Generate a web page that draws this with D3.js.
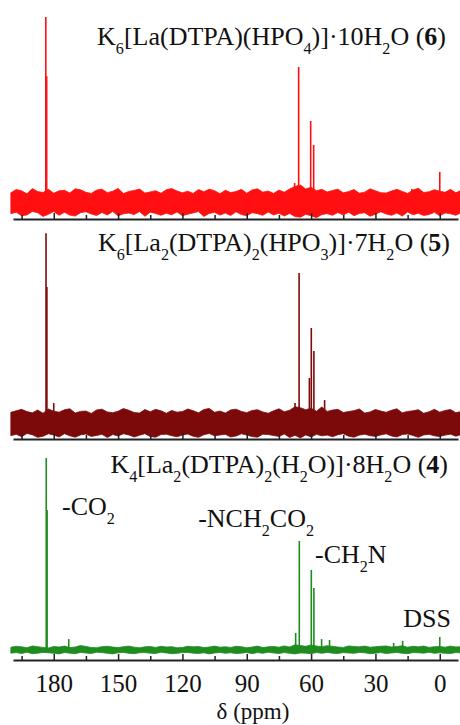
<!doctype html>
<html>
<head>
<meta charset="utf-8">
<script src="https://d3js.org/d3.v7.min.js"></script>
<style>
  body { margin: 0; background: #fff; }
  svg text { font-family: "Liberation Serif", "Times New Roman", serif; fill: #111; }
  svg .axis path, svg .axis line { stroke: #222; }
</style>
</head>
<body>
<script>

// x axis (ppm, reversed)
var xTicks = [180, 150, 120, 90, 60, 30, 0];
var xMinor = [195, 165, 135, 105, 75, 45, 15];

// grid for the baseline noise band, every 2.5 ppm from 200 down to -10
var noisePpm = d3.range(200, -10.1, -2.5);

// panel 6 (top, red)
var p6Peaks = [
  {ppm: 183.7, h: 100}, {ppm: 183.3, h: 68},
  {ppm: 67.7, h: 10.4}, {ppm: 65.8, h: 73},
  {ppm: 60.2, h: 43.9}, {ppm: 58.8, h: 30.9},
  {ppm: 13.0, h: 7.2}, {ppm: 0.0, h: 16.4}
];
var p6Hi = [5.1,6.9,6.2,4.6,7.4,5.8,5.3,7.0,4.9,6.2,
            6.5,5.0,7.3,6.8,5.4,4.8,6.6,7.1,5.2,6.0,
            7.5,4.7,5.9,6.4,7.2,5.0,5.6,6.3,4.9,6.8,
            7.4,6.1,5.1,6.0,4.8,6.9,5.7,7.1,6.3,4.6,
            6.5,5.3,5.8,7.0,4.9,6.7,7.3,5.5,6.1,4.8,
            6.6,5.5,7.2,8.6,9.4,7.2,8.1,6.3,7.0,5.6,
            6.4,7.1,5.1,5.8,6.9,4.9,5.5,7.3,6.2,5.2,
            5.0,6.1,7.0,5.9,4.8,6.6,7.6,5.3,5.7,6.8,
            6.0,5.4,7.0,5.1,6.5];
var p6Lo = [-6.1,-5.3,-7.2,-6.8,-4.9,-5.6,-7.6,-6.5,-5.0,-7.0,
            -5.4,-6.9,-7.4,-5.6,-5.1,-6.3,-7.1,-5.5,-6.8,-4.9,
            -7.3,-6.2,-5.8,-6.6,-5.0,-7.5,-5.3,-6.0,-7.0,-5.9,
            -6.7,-5.2,-7.2,-6.4,-5.7,-5.0,-7.6,-6.0,-5.4,-6.9,
            -5.8,-7.1,-5.1,-6.6,-7.3,-5.6,-6.1,-7.0,-5.2,-6.8,
            -5.9,-7.4,-6.0,-7.7,-8.0,-6.5,-7.2,-8.3,-6.6,-6.1,
            -7.0,-5.5,-6.9,-5.3,-7.2,-6.0,-5.6,-7.5,-6.4,-5.1,
            -6.3,-7.0,-5.8,-7.4,-5.2,-6.7,-5.9,-7.1,-6.6,-5.4,
            -7.3,-5.7,-6.2,-7.0,-5.5];

// panel 5 (middle, dark red)
var p5Peaks = [
  {ppm: 183.6, h: 102}, {ppm: 183.2, h: 73},
  {ppm: 180.0, h: 10.4}, {ppm: 67.5, h: 10.4},
  {ppm: 65.6, h: 80.6}, {ppm: 60.8, h: 23.9},
  {ppm: 59.9, h: 50.9}, {ppm: 58.7, h: 38.5},
  {ppm: 53.7, h: 12}
];
var p5Hi = [5.4,6.2,7.0,5.8,5.1,6.6,4.9,7.2,6.0,5.5,
            6.8,7.3,5.0,5.9,6.1,4.8,6.7,7.1,5.6,5.2,
            6.0,7.4,6.5,5.3,5.0,6.9,5.7,7.0,6.2,4.9,
            6.4,5.5,5.8,7.2,6.3,5.1,6.9,7.5,5.4,6.1,
            5.0,6.7,7.1,5.9,5.2,6.4,6.8,5.6,4.9,6.2,
            7.3,5.7,6.5,8.4,7.9,6.8,7.6,6.0,8.3,5.9,
            6.6,7.0,5.3,5.8,6.3,7.2,5.0,5.6,6.9,6.1,
            5.4,6.5,7.3,5.1,5.9,6.2,6.8,4.9,5.7,7.0,
            5.5,6.4,6.9,5.2,5.8];
var p5Lo = [-7.2,-6.4,-7.8,-6.0,-6.7,-8.1,-7.5,-6.2,-6.9,-7.9,
            -6.1,-7.3,-8.0,-6.8,-6.3,-7.6,-7.1,-6.5,-8.2,-6.6,
            -7.4,-6.2,-6.8,-7.9,-7.0,-6.1,-7.7,-8.0,-6.6,-6.4,
            -7.2,-7.8,-6.9,-6.3,-7.5,-8.1,-6.7,-6.0,-7.3,-6.8,
            -6.5,-7.9,-7.4,-6.2,-6.9,-7.7,-8.0,-6.4,-6.6,-7.1,
            -7.6,-6.3,-8.2,-7.0,-8.4,-6.8,-7.9,-6.5,-7.3,-6.9,
            -7.8,-6.7,-6.1,-7.5,-8.0,-6.9,-6.4,-7.2,-7.6,-6.8,
            -6.2,-7.4,-7.9,-6.6,-6.3,-7.1,-8.1,-6.8,-6.5,-7.3,
            -7.7,-6.9,-6.4,-7.5,-6.6];

// panel 4 (bottom, green)
var p4Peaks = [
  {ppm: 183.5, h: 100}, {ppm: 183.1, h: 72},
  {ppm: 173.0, h: 2.3}, {ppm: 67.2, h: 5.6},
  {ppm: 65.5, h: 55.2}, {ppm: 59.9, h: 39.6},
  {ppm: 58.7, h: 29.9}, {ppm: 55.1, h: 2.3},
  {ppm: 51.4, h: 1.8}, {ppm: 21.5, h: 0.2},
  {ppm: 17.3, h: 1.3}, {ppm: 0.0, h: 3.4}
];
var p4Hi = [-2.1,-1.6,-1.9,-2.4,-1.4,-1.8,-2.2,-2.5,-1.7,-2.0,
            -1.5,-2.3,-2.0,-1.2,-1.7,-2.2,-2.4,-1.8,-1.6,-2.0,
            -2.3,-1.8,-1.5,-2.1,-2.4,-1.9,-1.7,-2.2,-1.6,-2.0,
            -1.8,-2.4,-2.2,-1.6,-1.9,-1.7,-2.3,-2.0,-1.5,-2.1,
            -1.9,-2.2,-1.6,-1.8,-2.4,-2.0,-1.5,-2.3,-1.9,-1.7,
            -2.1,-1.4,-2.0,-0.8,-1.2,-1.6,-0.9,-1.5,-1.8,-1.3,
            -1.6,-2.0,-2.2,-1.4,-1.7,-1.9,-1.5,-2.1,-1.8,-1.6,
            -1.4,-2.0,-1.7,-1.3,-2.1,-1.6,-1.9,-1.5,-2.2,-1.8,
            -1.7,-2.1,-1.5,-2.0,-1.8];
var p4Lo = [-5.3,-5.0,-5.5,-4.8,-5.6,-5.3,-4.9,-5.1,-5.4,-5.7,
            -5.0,-5.3,-5.6,-4.9,-5.2,-5.5,-4.8,-5.0,-5.4,-5.7,
            -5.1,-4.9,-5.4,-5.6,-5.1,-5.0,-5.3,-5.5,-4.8,-5.2,
            -5.6,-5.4,-5.0,-4.9,-5.3,-5.5,-5.1,-5.7,-5.2,-4.9,
            -5.4,-5.1,-5.5,-5.3,-4.9,-5.6,-5.0,-5.4,-4.8,-5.2,
            -5.5,-5.0,-5.4,-5.7,-5.2,-5.3,-5.6,-5.0,-5.4,-4.9,
            -5.3,-5.5,-5.0,-5.2,-5.4,-4.9,-5.1,-5.6,-5.3,-5.0,
            -5.5,-5.2,-4.9,-5.4,-5.6,-5.0,-5.1,-5.3,-4.8,-5.4,
            -5.1,-5.4,-5.5,-5.0,-5.2];

var panels = [
  {axisY: 219, color: "#ff0f0f", base: 0, peaks: p6Peaks, hi: p6Hi, lo: p6Lo,
   title: [["K"],["6","sub"],["[La(DTPA)(HPO"],["4","sub"],[")]·10H"],["2","sub"],["O ("],["6","bold"],[")"]],
   titleX: 446, titleY: 45},
  {axisY: 439, color: "#7d0a0a", base: 0, peaks: p5Peaks, hi: p5Hi, lo: p5Lo,
   title: [["K"],["6","sub"],["[La"],["2","sub"],["(DTPA)"],["2","sub"],["(HPO"],["3","sub"],[")]·7H"],["2","sub"],["O ("],["5","bold"],[")"]],
   titleX: 450, titleY: 251},
  {axisY: 660, color: "#1f8c1f", base: -3.5, peaks: p4Peaks, hi: p4Hi, lo: p4Lo,
   title: [["K"],["4","sub"],["[La"],["2","sub"],["(DTPA)"],["2","sub"],["(H"],["2","sub"],["O)]·8H"],["2","sub"],["O ("],["4","bold"],[")"]],
   titleX: 448, titleY: 473}
];

var peakLabels = [
  {text: [["-CO"],["2","sub"]], x: 62, y: 515, anchor: "start"},
  {text: [["-NCH"],["2","sub"],["CO"],["2","sub"]], x: 314, y: 527, anchor: "end"},
  {text: [["-CH"],["2","sub"],["N"]], x: 315, y: 563, anchor: "start"},
  {text: [["DSS"]], x: 451, y: 627, anchor: "end"}
];

var width = 460, height = 725;
var FONT = 26, TICK_FONT = 25;

var svg = d3.select("body").append("svg")
  .attr("width", width)
  .attr("height", height);

var x = d3.scaleLinear().domain([199, -8.5]).range([13, 458]);

// writes a chemical formula with subscripts into a text element
function formula(sel, parts, size) {
  var shifted = false;
  parts.forEach(function(p) {
    var t = sel.append("tspan").text(p[0]);
    if (p[1] == "sub") {
      t.attr("font-size", size * 0.62);
      if (!shifted) t.attr("dy", size * 0.36);
      shifted = true;
    } else {
      if (shifted) t.attr("dy", -size * 0.36);
      shifted = false;
      if (p[1] == "bold") t.attr("font-weight", "bold");
    }
  });
}

panels.forEach(function(p, i) {
  var y = d3.scaleLinear().domain([-9, 100]).range([p.axisY, p.axisY - 202]);
  var g = svg.append("g");

  // noise band
  var area = d3.area()
    .x(function(d, j) { return x(noisePpm[j]); })
    .y0(function(d, j) { return y(p.lo[j]); })
    .y1(function(d, j) { return y(p.hi[j]); });

  g.append("path")
    .datum(p.hi)
    .attr("d", area)
    .attr("fill", p.color)
    .attr("stroke", p.color)
    .attr("stroke-width", 0.8);

  // peaks
  g.selectAll(".peak")
    .data(p.peaks)
    .enter().append("line")
    .attr("class", "peak")
    .attr("x1", function(d) { return x(d.ppm); })
    .attr("x2", function(d) { return x(d.ppm); })
    .attr("y1", y(p.base))
    .attr("y2", function(d) { return y(d.h); })
    .attr("stroke", p.color)
    .attr("stroke-width", 1.6);

  // axis
  var axis = d3.axisBottom(x)
    .tickValues(xTicks)
    .tickSizeInner(-6)
    .tickSizeOuter(0)
    .tickPadding(14);
  if (i < 2) axis.tickFormat("");

  var ax = svg.append("g")
    .attr("class", "axis")
    .attr("transform", "translate(0," + p.axisY + ")")
    .call(axis);
  ax.select(".domain").attr("stroke-width", 2);
  ax.selectAll(".tick line").attr("stroke-width", 1.5);
  ax.selectAll("text").attr("font-size", TICK_FONT).attr("fill", "#111")
    .attr("font-family", "Liberation Serif");

  svg.append("g")
    .attr("class", "axis")
    .attr("transform", "translate(0," + p.axisY + ")")
    .call(d3.axisBottom(x).tickValues(xMinor).tickSizeInner(-4).tickSizeOuter(0).tickFormat(""))
    .call(function(s) { s.select(".domain").remove(); })
    .selectAll(".tick line").attr("stroke-width", 1.5);

  // title
  var t = svg.append("text")
    .attr("x", p.titleX)
    .attr("y", p.titleY)
    .attr("text-anchor", "end")
    .attr("font-size", FONT);
  formula(t, p.title, FONT);
});

peakLabels.forEach(function(l) {
  var t = svg.append("text")
    .attr("x", l.x)
    .attr("y", l.y)
    .attr("text-anchor", l.anchor)
    .attr("font-size", FONT);
  formula(t, l.text, FONT);
});

svg.append("text")
  .attr("x", 253)
  .attr("y", 719)
  .attr("text-anchor", "middle")
  .attr("font-size", 23)
  .text("δ (ppm)");

</script>
</body>
</html>
